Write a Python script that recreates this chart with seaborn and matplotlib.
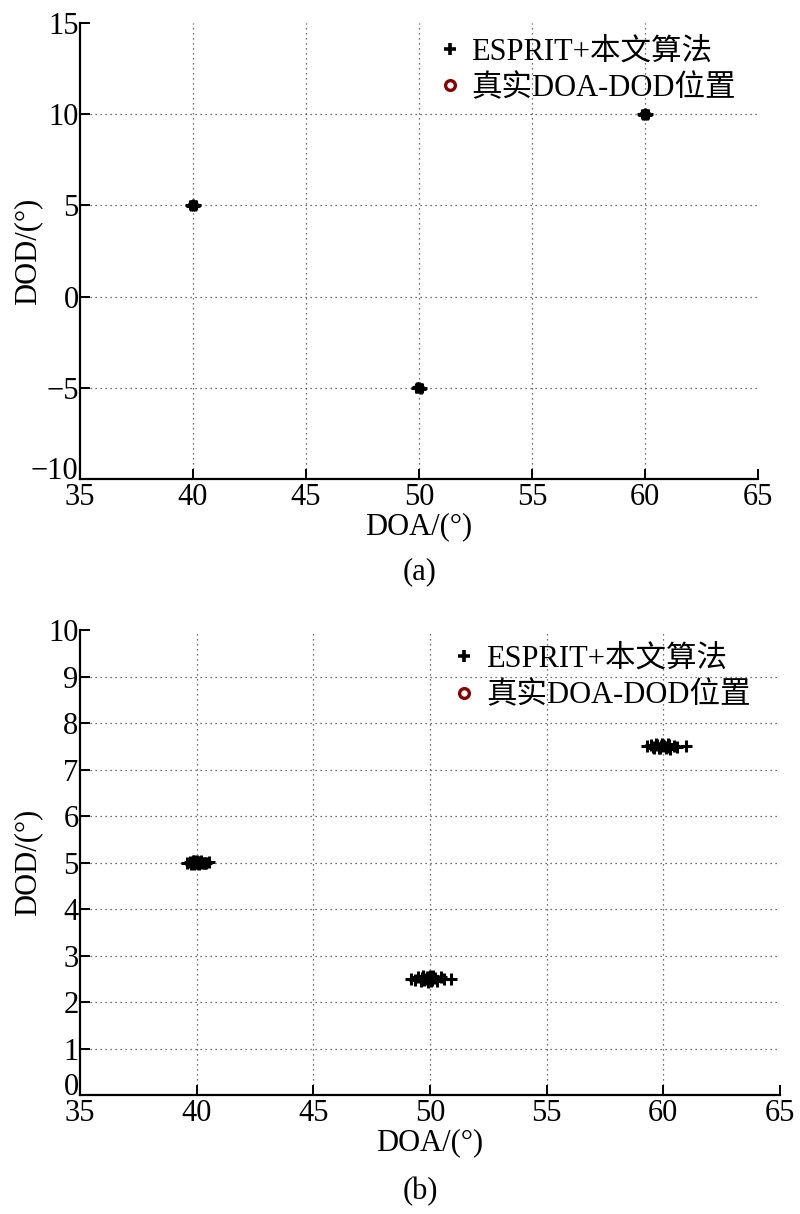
import numpy as np
import pandas as pd
import seaborn as sns
import matplotlib.pyplot as plt
from matplotlib.lines import Line2D

# true DOA-DOD positions
true_a_doa = [40, 50, 60]
true_a_dod = [5, -5, 10]
true_b_doa = [40, 50, 60]
true_b_dod = [5, 2.5, 7.5]

# ESPRIT + proposed estimates, panel (a)
est_a_doa = [39.9, 40.0, 40.1, 40.05, 39.95, 40.0, 40.08, 39.92, 40.12, 39.88,
             49.9, 50.0, 50.1, 50.05, 49.95, 50.0, 50.08, 49.92, 50.12, 49.88,
             59.9, 60.0, 60.1, 60.05, 59.95, 60.0, 60.08, 59.92, 60.12, 59.88]
est_a_dod = [5.0, 5.05, 4.95, 5.0, 5.02, 4.97, 5.03, 4.98, 5.0, 5.01,
             -5.0, -4.96, -5.04, -5.0, -4.98, -5.02, -5.0, -4.97, -5.01, -5.0,
             10.0, 10.05, 9.95, 10.0, 10.02, 9.97, 10.03, 9.98, 10.0, 10.01]

# ESPRIT + proposed estimates, panel (b)
est_b_doa = [39.6, 39.7, 39.8, 39.9, 40.0, 40.1, 40.2, 40.3, 40.4, 40.55,
             39.75, 39.85, 39.95, 40.05, 40.15, 40.25, 40.35, 40.0, 39.9, 40.1,
             49.2, 49.35, 49.5, 49.6, 49.7, 49.8, 49.9, 50.0, 50.1, 50.2,
             50.3, 50.45, 50.6, 50.9, 49.65, 49.75, 49.85, 49.95, 50.05, 50.15,
             59.3, 59.45, 59.6, 59.7, 59.8, 59.9, 60.0, 60.1, 60.2, 60.3,
             60.45, 60.6, 60.95, 59.55, 59.75, 59.85, 59.95, 60.05, 60.15, 60.25]
est_b_dod = [5.0, 5.02, 4.98, 5.04, 5.0, 4.97, 5.03, 5.0, 4.99, 5.01,
             4.97, 5.03, 5.0, 4.98, 5.02, 5.0, 4.99, 5.04, 4.96, 5.01,
             2.5, 2.47, 2.53, 2.45, 2.55, 2.5, 2.44, 2.56, 2.48, 2.52,
             2.46, 2.54, 2.5, 2.49, 2.52, 2.47, 2.53, 2.5, 2.45, 2.55,
             7.5, 7.52, 7.47, 7.54, 7.46, 7.5, 7.53, 7.47, 7.55, 7.45,
             7.51, 7.49, 7.5, 7.48, 7.52, 7.46, 7.54, 7.5, 7.48, 7.52]

lab_est = 'ESPRIT+本文算法'
lab_true = '真实DOA-DOD位置'

sns.set_style('ticks')
plt.rcParams['font.family'] = ['Liberation Serif', 'Noto Sans CJK SC']
plt.rcParams['text.color'] = 'black'
plt.rcParams['xtick.color'] = 'black'
plt.rcParams['ytick.color'] = 'black'
plt.rcParams['axes.labelcolor'] = 'black'
fs = 22

fig = plt.figure(figsize=(8, 12.14), dpi=100)
ax1 = fig.add_axes([0.1, 0.6054, 0.8475, 0.3757])
ax2 = fig.add_axes([0.1, 0.098, 0.875, 0.383])


def draw(ax, ex, ey, tx, ty, ylim, yticks, ms, lw, ylab_x, leg_x):
    df_est = pd.DataFrame({'DOA': ex, 'DOD': ey})
    df_true = pd.DataFrame({'DOA': tx, 'DOD': ty})
    sns.scatterplot(data=df_true, x='DOA', y='DOD', marker='o', facecolor='none',
                    edgecolor='#8b0000', s=30, linewidth=1.5, ax=ax, zorder=2,
                    legend=False)
    sns.scatterplot(data=df_est, x='DOA', y='DOD', marker='+', color='black',
                    s=ms, linewidth=lw, ax=ax, zorder=3, legend=False)
    ax.set_xlim(35, 65)
    ax.set_ylim(ylim)
    ax.set_xticks(np.arange(35, 66, 5))
    ax.set_yticks(yticks)
    ax.grid(True, linestyle=(0, (1, 3)), color='#444444', linewidth=0.9)
    ax.xaxis.get_gridlines()[-1].set_visible(False)
    ax.xaxis.get_gridlines()[0].set_visible(False)
    ax.yaxis.get_gridlines()[-1].set_visible(False)
    ax.yaxis.get_gridlines()[0].set_visible(False)
    ax.set_axisbelow(True)
    sns.despine(ax=ax)
    for s in ['left', 'bottom']:
        ax.spines[s].set_linewidth(1.6)
        ax.spines[s].set_color('black')
    ax.tick_params(direction='in', length=7, width=1.4, labelsize=fs, pad=1)
    ax.tick_params(axis='x', pad=3)
    # lowest y label sits on the x axis, as in the original
    ax.get_yticklabels()[0].set_verticalalignment('baseline')
    ax.set_xlabel('DOA/(°)', fontsize=fs, labelpad=0)
    ax.set_ylabel('DOD/(°)', fontsize=fs)
    ax.yaxis.set_label_coords(ylab_x, 0.5)
    handles = [Line2D([], [], marker='+', color='black', linestyle='none',
                      markersize=9, markeredgewidth=2.6),
               Line2D([], [], marker='o', color='#8b0000', linestyle='none',
                      markerfacecolor='none', markersize=7, markeredgewidth=2.4)]
    ax.legend(handles, [lab_est, lab_true], loc='upper right', frameon=False,
              fontsize=fs, handlelength=0.8, handletextpad=0.3,
              labelspacing=0.25, borderaxespad=0.0, bbox_to_anchor=(leg_x, 0.995))


draw(ax1, est_a_doa, est_a_dod, true_a_doa, true_a_dod, (-10, 15),
     np.arange(-10, 16, 5), 50, 2.2, -0.056, 0.985)
draw(ax2, est_b_doa, est_b_dod, true_b_doa, true_b_dod, (0, 10),
     np.arange(0, 11, 1), 70, 2.2, -0.054, 0.975)

fig.text(0.525, 1 - 572 / 1214, '(a)', fontsize=fs, ha='center', va='center')
fig.text(0.525, 1 - 1192 / 1214, '(b)', fontsize=fs, ha='center', va='center')

fig.savefig('out.png', dpi=100)
